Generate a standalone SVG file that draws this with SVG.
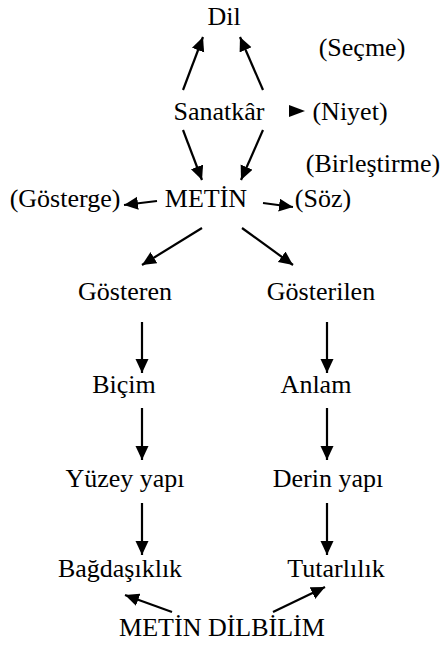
<svg xmlns="http://www.w3.org/2000/svg" width="442" height="646" viewBox="0 0 442 646">
  <style>
    text { font-family: "Liberation Serif", "Times New Roman", serif; font-size: 26px; fill: #000; text-anchor: middle; }
    .edge { stroke: #000; stroke-width: 2.2; fill: none; marker-end: url(#head); }
  </style>
  <defs>
    <marker id="head" markerUnits="userSpaceOnUse" markerWidth="16" markerHeight="14" refX="14" refY="6.5" orient="auto">
      <path d="M0,0 L14,6.5 L0,13 Z" fill="#000"/>
    </marker>
  </defs>
  <rect width="442" height="646" fill="#fff"/>

  <!-- nodes -->
  <g id="dil"><text x="224" y="25">Dil</text></g>
  <g id="secme"><text x="362" y="56">(Seçme)</text></g>
  <g id="sanatkar"><text x="219" y="120">Sanatkâr</text></g>
  <g id="niyet">
    <polygon points="289,105 305,111 289,117" fill="#000"/>
    <text x="350" y="120">(Niyet)</text>
  </g>
  <g id="birlestirme"><text x="373" y="172">(Birleştirme)</text></g>
  <g id="gosterge"><text x="65" y="207">(Gösterge)</text></g>
  <g id="metin"><text x="206" y="207">METİN</text></g>
  <g id="soz"><text x="323" y="207">(Söz)</text></g>
  <g id="gosteren"><text x="125" y="300">Gösteren</text></g>
  <g id="gosterilen"><text x="321" y="300">Gösterilen</text></g>
  <g id="bicim"><text x="124" y="393">Biçim</text></g>
  <g id="anlam"><text x="316" y="393">Anlam</text></g>
  <g id="yuzey-yapi"><text x="125" y="487">Yüzey yapı</text></g>
  <g id="derin-yapi"><text x="328" y="487">Derin yapı</text></g>
  <g id="bagdasiklik"><text x="120" y="577">Bağdaşıklık</text></g>
  <g id="tutarlilik"><text x="336" y="577">Tutarlılık</text></g>
  <g id="metin-dilbilim"><text x="222" y="636">METİN DİLBİLİM</text></g>

  <!-- connectors -->
  <g id="connectors">
    <line class="edge" x1="183" y1="90" x2="203" y2="37"/>
    <line class="edge" x1="263" y1="90" x2="240" y2="37"/>
    <line class="edge" x1="183" y1="130" x2="202" y2="180"/>
    <line class="edge" x1="263" y1="130" x2="241" y2="180"/>
    <line class="edge" x1="157" y1="201" x2="124" y2="205"/>
    <line class="edge" x1="263" y1="203" x2="293" y2="207"/>
    <line class="edge" x1="202" y1="228" x2="142" y2="265"/>
    <line class="edge" x1="242" y1="228" x2="293" y2="265"/>
    <line class="edge" x1="142" y1="322" x2="142" y2="373"/>
    <line class="edge" x1="327" y1="322" x2="327" y2="373"/>
    <line class="edge" x1="142" y1="408" x2="142" y2="460"/>
    <line class="edge" x1="327" y1="408" x2="327" y2="460"/>
    <line class="edge" x1="142" y1="503" x2="142" y2="555"/>
    <line class="edge" x1="327" y1="503" x2="327" y2="555"/>
    <line class="edge" x1="172" y1="612" x2="125" y2="595"/>
    <line class="edge" x1="273" y1="612" x2="325" y2="587"/>
  </g>
</svg>
